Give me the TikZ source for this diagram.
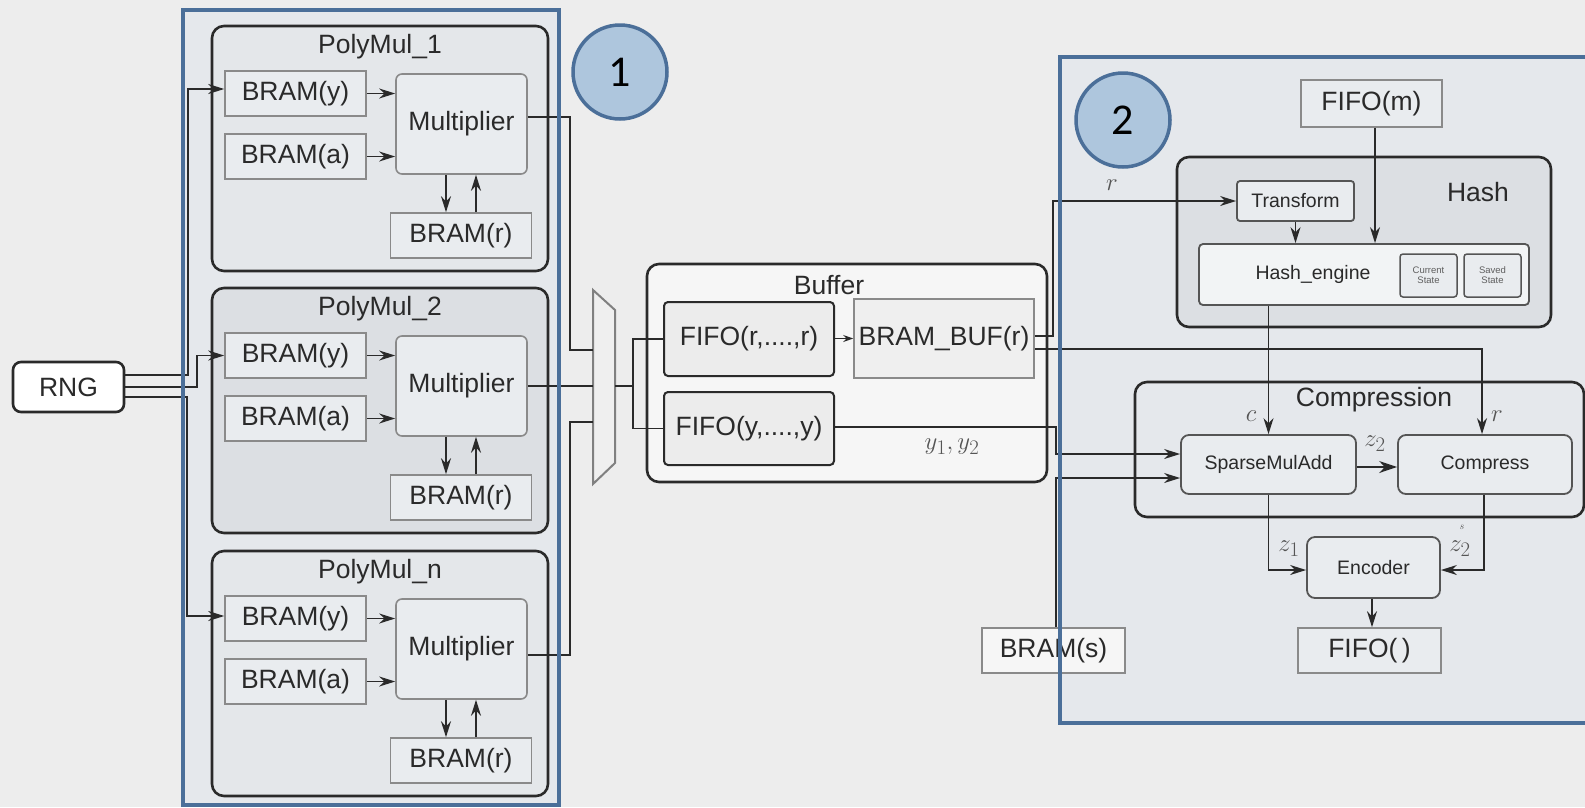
\documentclass[tikz,border=0pt]{standalone}
\usepackage{fontspec}
\newfontfamily\lab{Liberation Sans}
\newfontfamily\numf{Carlito}
\usetikzlibrary{arrows.meta,calc}
\definecolor{bgc}{HTML}{EDEDED}
\definecolor{bluefill}{HTML}{E5E8EC}
\definecolor{blueline}{HTML}{4B6F99}
\definecolor{circfill}{HTML}{AEC6DD}
\definecolor{pmfill}{HTML}{E4E7EA}
\definecolor{pmfilltwo}{HTML}{DCDFE3}
\definecolor{bramfill}{HTML}{E9ECEF}
\definecolor{bramline}{HTML}{8A8A8A}
\definecolor{hashfill}{HTML}{DCDFE3}
\definecolor{buffill}{HTML}{F6F6F6}
\definecolor{darkl}{HTML}{2A2A2A}
\definecolor{mathc}{HTML}{555555}
\tikzset{
  big/.style={font=\lab\fontsize{26.5}{29}\selectfont, text=darkl},
  small/.style={font=\lab\fontsize{19.5}{22}\selectfont, text=darkl},
  mlab/.style={font=\fontsize{24.88}{27}\selectfont, text=mathc},
  bram/.style={big, draw=bramline, line width=1.6pt, fill=bramfill, minimum width=141pt, minimum height=45pt, inner sep=0pt},
  mult/.style={big, draw=bramline, line width=1.6pt, fill=bramfill, rounded corners=6pt, minimum width=131pt, minimum height=100pt, inner sep=0pt},
  pmbox/.style={draw=darkl, line width=2.6pt, rounded corners=12pt, inner sep=0pt},
  fifobox/.style={big, draw=darkl, line width=2pt, rounded corners=4pt, fill=buffill!96!black, minimum width=170pt, inner sep=0pt},
  grayrect/.style={big, draw=bramline, line width=1.6pt, fill=bramfill, inner sep=0pt},
  smallbox/.style={small, draw=darkl!80, line width=1.8pt, rounded corners=8pt, fill=bramfill, inner sep=0pt},
  conn/.style={draw=darkl, line width=1.5pt, -{Stealth[length=16pt,width=10pt]}},
  wire/.style={draw=darkl, line width=1.5pt},
  bluebox/.style={draw=blueline, line width=4pt},
  numcirc/.style={circle, draw=blueline, line width=3.5pt, fill=circfill, minimum size=94pt, inner sep=0pt, font=\numf\fontsize{44}{48}\selectfont}
}
\newcommand\PMblock[4]{%
  \node[pmbox, fill=#4, minimum width=336pt, minimum height=245pt] (pm#1) at (380,#2+122.5) {};
  \node[big] (pmt#1) at (380,#2+21) {#3};
  \node[bram] (by#1) at (295.5,#2+67.5) {BRAM(y)};
  \node[bram] (ba#1) at (295.5,#2+130.5) {BRAM(a)};
  \node[mult] (mu#1) at (461.5,#2+98) {Multiplier};
  \node[bram] (br#1) at (461,#2+209.5) {BRAM(r)};
  \draw[conn] (by#1) -- (mu#1.west |- by#1);
  \draw[conn] (ba#1) -- (mu#1.west |- ba#1);
  \draw[conn] ([xshift=-15.5pt]mu#1.south) -- ([xshift=-15.5pt]mu#1.south |- br#1.north);
  \draw[conn] ([xshift=14.5pt]mu#1.south |- br#1.north) -- ([xshift=14.5pt]mu#1.south);
}
\begin{document}
\begin{tikzpicture}[x=1pt,y=-1pt]
\useasboundingbox (0,0) rectangle (1585,807);
\fill[bgc] (0,0) rectangle (1585,807);
% blue region fills
\fill[bluefill] (183,10) rectangle (559,805);
\fill[bluefill] (1060,57) rectangle (1600,723);

% circles
\node[numcirc] (c1) at (620,72) {1};
\node[numcirc] (c2) at (1123,120) {2};

% RNG
\node[big, draw=darkl, line width=2.6pt, rounded corners=8pt, fill=white, minimum width=111pt, minimum height=50pt, inner sep=0pt] (rng) at (68.5,387) {RNG};

% PolyMul blocks
\PMblock{1}{26}{PolyMul\_1}{pmfill}
\PMblock{2}{288}{PolyMul\_2}{pmfilltwo}
\PMblock{n}{551}{PolyMul\_n}{pmfill}

% RNG wires
\draw[conn] ([yshift=12pt]rng.east) -- (188,375) |- ([yshift=4.5pt]by1.west);
\draw[conn] (rng.east) -- (197,387) |- (by2.west);
\draw[conn] ([yshift=-10pt]rng.east) -- (187,397) |- ([yshift=2.5pt]byn.west);

% Mux
\draw[draw=gray, line width=2pt, fill=buffill!97!black] (593,290) -- (615,310) -- (615,463) -- (593,484) -- cycle;
\coordinate (mxin1) at (593,350);
\coordinate (mxin2) at (593,386);
\coordinate (mxin3) at (593,422);
\coordinate (mxout) at (615,386);
\coordinate (bus) at (633,386);
\draw[wire] ([yshift=7pt]mu1.east) -| (570,350) -- (mxin1);
\draw[wire] (mu2.east) -- (mxin2);
\draw[wire] ([yshift=-6pt]mun.east) -| (570,422) -- (mxin3);

% Buffer
\node[pmbox, fill=buffill, minimum width=400pt, minimum height=218pt] (buf) at (847,373) {};
\node[big] (buft) at (829,285) {Buffer};
\node[fifobox, minimum height=74pt] (fr) at (749,339) {FIFO(r,....,r)};
\node[fifobox, minimum height=73pt] (fy) at (749,428.5) {FIFO(y,....,y)};
\node[grayrect, fill=buffill!97!black, minimum width=180pt, minimum height=79pt] (bb) at (944,338.5) {BRAM\_BUF(r)};
\draw[wire] (mxout) -- (bus);
\draw[wire] (bus) |- (fr.west);
\draw[wire] (bus) |- (fy.west);
\draw[draw=darkl, line width=1.3pt, -{Stealth[length=10pt,width=7pt]}] (fr.east |- bb.west) -- (bb.west);
\node[mlab] (ylab) at (952,447) {$y_1, y_2$};

% Hash region
\node[grayrect, minimum width=141pt, minimum height=47pt] (fm) at (1371.5,103.5) {FIFO(m)};
\node[pmbox, fill=hashfill, minimum width=374pt, minimum height=170pt] (hash) at (1364,242) {};
\node[big] (hasht) at (1478,192) {Hash};
\node[smallbox, rounded corners=3pt, minimum width=117pt, minimum height=40pt] (tr) at (1295.5,201) {Transform};
\node[smallbox, rounded corners=4pt, fill=bramfill!60!white, minimum width=330pt, minimum height=61pt] (he) at (1364,274.5) {};
\node[small] (het) at (1313,274) {Hash\_engine};
\node[draw=darkl!80, line width=1.5pt, rounded corners=3pt, fill=bramfill, minimum width=57pt, minimum height=43pt, inner sep=0pt, align=center, font=\lab\fontsize{9.5}{10}\selectfont, text=darkl!75] (cs) at (1428.5,275.5) {Current\\State};
\node[draw=darkl!80, line width=1.5pt, rounded corners=3pt, fill=bramfill, minimum width=57pt, minimum height=43pt, inner sep=0pt, align=center, font=\lab\fontsize{9.5}{10}\selectfont, text=darkl!75] (ss) at (1492.5,275.5) {Saved\\State};
\draw[conn] (tr.south) -- (tr.south |- he.north);
\draw[conn] ([xshift=3.5pt]fm.south) -- ([xshift=3.5pt]fm.south |- he.north);
\draw[conn] ([yshift=2.5pt]bb.east) -- ++(18,0) |- (tr.west);
\node[mlab] (rlab1) at (1112,185) {$r$};

% Compression
\node[pmbox, fill=bluefill, minimum width=449pt, minimum height=135pt] (comp) at (1359.5,449.5) {};
\node[big] (compt) at (1374,400) {Compression};
\node[smallbox, minimum width=175pt, minimum height=59pt] (sm) at (1268.5,464.5) {SparseMulAdd};
\node[smallbox, minimum width=174pt, minimum height=59pt] (cp) at (1485,464.5) {Compress};
\draw[conn] (he.south -| sm.north) -- (sm.north);
\node[mlab] (clab) at (1251,416) {$c$};
\draw[conn] ([yshift=-10.5pt]bb.east) -| ([xshift=-3pt]cp.north);
\node[mlab] (rlab2) at (1497,416) {$r$};
\draw[draw=darkl, line width=2.2pt, -{Stealth[length=18pt,width=12pt]}] ([yshift=-2.5pt]sm.east) -- ([yshift=-2.5pt]sm.east -| cp.west);
\node[mlab] (z2a) at (1375,444) {$z_2$};

% inputs to SparseMulAdd
\node[grayrect, fill=buffill, minimum width=143pt, minimum height=45pt] (bs) at (1053.5,650.5) {BRAM(s)};
\draw[conn] ([yshift=1.5pt]fy.east) -- (1056,427) |- ([yshift=10.5pt]sm.west);
\draw[conn] ([xshift=2.5pt]bs.north) |- ([yshift=-13.5pt]sm.west);

% Encoder
\node[smallbox, minimum width=133pt, minimum height=61pt] (en) at (1373.5,567.5) {Encoder};
\node[grayrect, minimum width=143pt, minimum height=45pt] (ff) at (1369.5,650.5) {FIFO(\,)};
\draw[conn] (sm.south) |- ([yshift=-2.5pt]en.west);
\node[mlab] (z1) at (1289,549) {$z_1$};
\draw[conn] ([xshift=-1pt]cp.south) |- ([yshift=-2.5pt]en.east);
\node[mlab] (z2b) at (1460,549) {$z_2$};
\node[font=\fontsize{10}{10}\selectfont, text=mathc] (z2s) at (1462,527) {$s$};
\draw[conn] ([xshift=-1.5pt]en.south) -- ([xshift=-1.5pt]en.south |- ff.north);

% blue borders on top
\draw[bluebox] (183,10) rectangle (559,805);
\draw[bluebox] (1060,57) rectangle (1600,723);
\end{tikzpicture}
\end{document}
